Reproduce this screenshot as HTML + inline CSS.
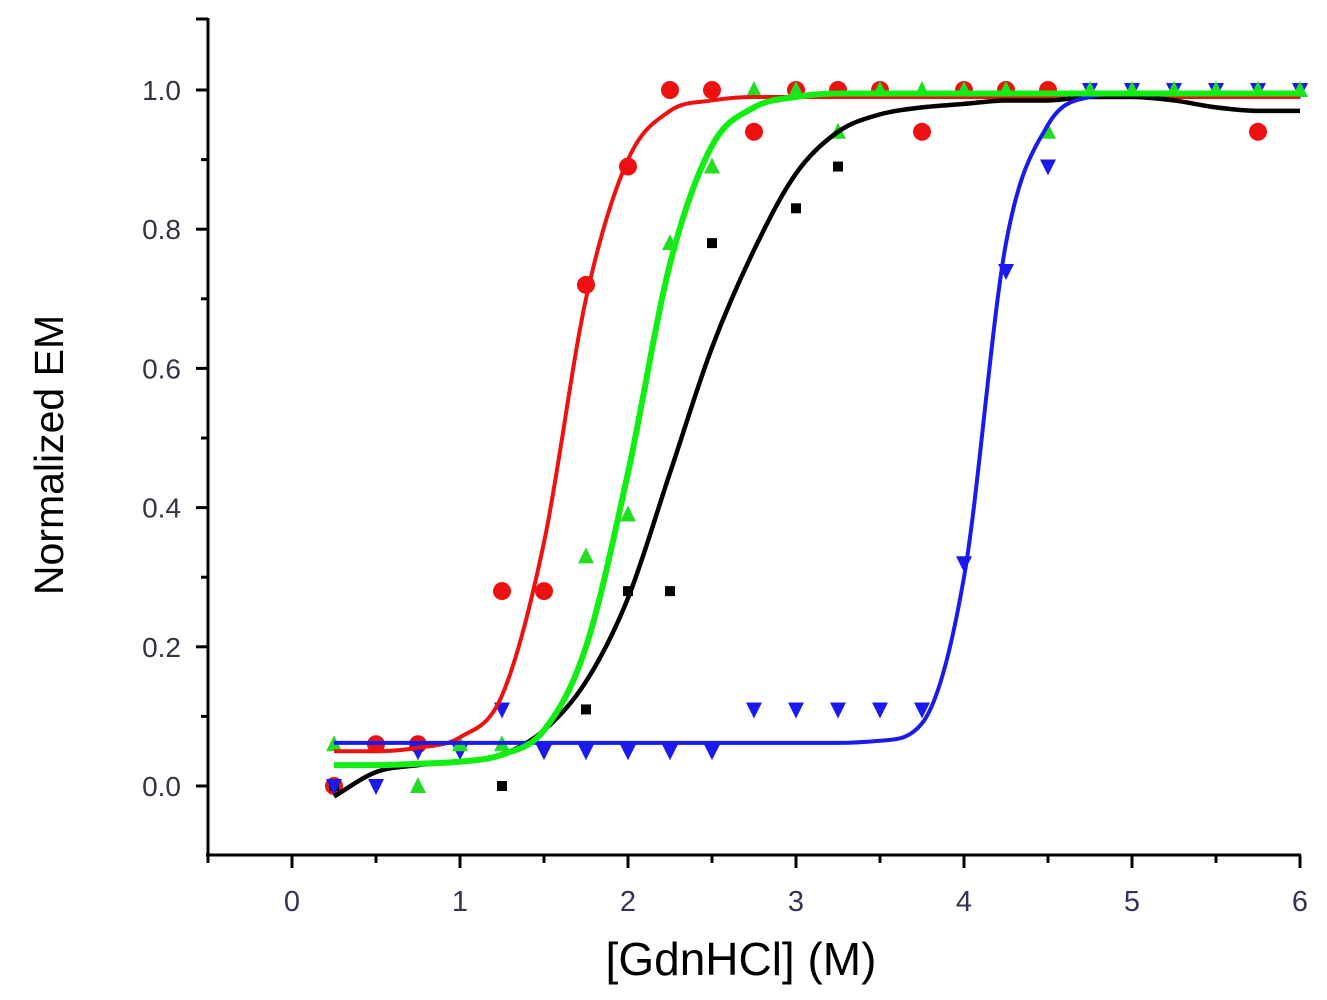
<!DOCTYPE html>
<html><head><meta charset="utf-8"><style>
html,body{margin:0;padding:0;background:#fff;}
svg{display:block;font-family:"Liberation Sans",Arial,sans-serif;}
</style></head><body>
<svg id="chart" width="1327" height="1000" viewBox="0 0 1327 1000"></svg>
<script>
const xTicks = [0,1,2,3,4,5,6];
const yTicks = [0.0,0.2,0.4,0.6,0.8,1.0];
const yTickLabels = ["0.0","0.2","0.4","0.6","0.8","1.0"];

const redX = [0.25,0.5,0.75,1.25,1.5,1.75,2.0,2.25,2.5,2.75,3.0,3.25,3.5,3.75,4.0,4.25,4.5,5.75];
const redY = [0.0,0.06,0.06,0.28,0.28,0.72,0.89,1.0,1.0,0.94,1.0,1.0,1.0,0.94,1.0,1.0,1.0,0.94];
const greenX = [0.25,0.75,1.0,1.25,1.75,2.0,2.25,2.5,2.75,3.0,3.25,3.5,3.75,4.0,4.25,4.5,4.75,5.0,5.25,5.5,5.75,6.0];
const greenY = [0.06,0.0,0.06,0.06,0.33,0.39,0.78,0.89,1.0,1.0,0.94,1.0,1.0,1.0,1.0,0.94,1.0,1.0,1.0,1.0,1.0,1.0];
const blackX = [0.25,1.25,1.75,2.0,2.25,2.5,3.0,3.25];
const blackY = [0.0,0.0,0.11,0.28,0.28,0.78,0.83,0.89];
const blueX = [0.25,0.5,0.75,1.0,1.25,1.5,1.75,2.0,2.25,2.5,2.75,3.0,3.25,3.5,3.75,4.0,4.25,4.5,4.75,5.0,5.25,5.5,5.75,6.0];
const blueY = [0.0,0.0,0.05,0.05,0.11,0.05,0.05,0.05,0.05,0.05,0.11,0.11,0.11,0.11,0.11,0.32,0.74,0.89,1.0,1.0,1.0,1.0,1.0,1.0];

const fitX = [0.25,0.5,0.75,1.0,1.25,1.5,1.75,2.0,2.25,2.5,2.75,3.0,3.25,3.5,3.75,4.0,4.25,4.5,4.75,5.0,5.25,5.5,5.75,6.0];
const redFit   = [0.05,0.05,0.055,0.07,0.13,0.35,0.70,0.90,0.97,0.985,0.99,0.99,0.99,0.99,0.99,0.99,0.99,0.99,0.99,0.99,0.99,0.99,0.99,0.99];
const greenFit = [0.03,0.03,0.032,0.035,0.045,0.08,0.20,0.45,0.75,0.92,0.975,0.99,0.995,0.995,0.995,0.995,0.995,0.995,0.995,0.995,0.995,0.995,0.995,0.995];
const blackFit = [-0.015,0.02,0.03,0.035,0.045,0.08,0.15,0.27,0.45,0.63,0.77,0.88,0.94,0.965,0.975,0.98,0.985,0.985,0.99,0.99,0.985,0.975,0.97,0.97];
const blueFit  = [0.062,0.062,0.062,0.062,0.062,0.062,0.062,0.062,0.062,0.062,0.062,0.062,0.062,0.065,0.09,0.30,0.78,0.95,0.99,0.995,0.995,0.995,0.995,0.995];

const NS="http://www.w3.org/2000/svg";
const svg=document.getElementById('chart');
function X(v){return 292+168*v;}
function Y(v){return 786-696*v;}
function el(tag,attrs,parent){const e=document.createElementNS(NS,tag);for(const k in attrs)e.setAttribute(k,attrs[k]);(parent||svg).appendChild(e);return e;}

const axes=el('g',{});


const yAxis=el('line',{x1:208,y1:18,x2:208,y2:856,stroke:'#000','stroke-width':3},axes);


const xAxis=el('line',{x1:206,y1:855,x2:1301,y2:855,stroke:'#000','stroke-width':3},axes);


for(let i=0;i<=11;i++){
  const v=i/10; const major=(i%2===0)||i===11;
  const y=(i===11)?19:Y(v);
  const t=el('line',{x1:major?196:201,y1:y,x2:208,y2:y,stroke:'#000','stroke-width':3},axes);
  
  
}
yTicks.forEach((v,i)=>{
  const t=el('text',{x:181,y:Y(v)+10,'text-anchor':'end','font-size':28,fill:'#333344'},axes);
  t.textContent=yTickLabels[i];
  
  
});
for(let v=-0.5;v<=6.01;v+=0.5){
  const major=Math.abs(v-Math.round(v))<0.01;
  const t=el('line',{x1:X(v),y1:855,x2:X(v),y2:major?868:863,stroke:'#000','stroke-width':3},axes);
  
  
}
xTicks.forEach(v=>{
  const t=el('text',{x:X(v),y:911,'text-anchor':'middle','font-size':29,fill:'#333355'},axes);
  t.textContent=String(v);
  
  
});
const xt=el('text',{x:741,y:975,'text-anchor':'middle','font-size':46,fill:'#000'});
xt.textContent='[GdnHCl] (M)';


const yt=el('text',{x:0,y:0,'text-anchor':'middle','font-size':41,fill:'#000',transform:'translate(63,455) rotate(-90)'});
yt.textContent='Normalized EM';



function markers(xs,ys,color,shape,name){
  const g=el('g',{fill:color});
  
  
  xs.forEach((xv,i)=>{
    const cx=X(xv),cy=Y(ys[i]);let m;
    if(shape==='circle')m=el('circle',{cx:cx,cy:cy,r:9},g);
    else if(shape==='square')m=el('rect',{x:cx-5,y:cy-5,width:10,height:10},g);
    else if(shape==='up')m=el('polygon',{points:`${cx},${cy-9} ${cx-8},${cy+7} ${cx+8},${cy+7}`},g);
    else m=el('polygon',{points:`${cx-8},${cy-7} ${cx+8},${cy-7} ${cx},${cy+9}`},g);
    
    
  });
}
function curve(xs,ys,color,w,name){
  const px=xs.map(X), py=ys.map(Y), n=px.length;
  const d=[],m=new Array(n);
  for(let i=0;i<n-1;i++)d.push((py[i+1]-py[i])/(px[i+1]-px[i]));
  m[0]=d[0];m[n-1]=d[n-2];
  for(let i=1;i<n-1;i++){m[i]=(d[i-1]*d[i]<=0)?0:(d[i-1]+d[i])/2;}
  for(let i=0;i<n-1;i++){
    if(d[i]===0){m[i]=0;m[i+1]=0;continue;}
    const a=m[i]/d[i],b=m[i+1]/d[i],s=a*a+b*b;
    if(s>9){const t=3/Math.sqrt(s);m[i]=t*a*d[i];m[i+1]=t*b*d[i];}
  }
  let p=`M${px[0]},${py[0]}`;
  for(let i=0;i<n-1;i++){
    const h=(px[i+1]-px[i])/3;
    p+=` C${px[i]+h},${py[i]+m[i]*h} ${px[i+1]-h},${py[i+1]-m[i+1]*h} ${px[i+1]},${py[i+1]}`;
  }
  const path=el('path',{d:p,fill:'none',stroke:color,'stroke-width':w,'stroke-linejoin':'round'});
  
  
}
markers(redX,redY,'#ee1111','circle','red');
markers(blackX,blackY,'#000','square','black');
markers(blueX,blueY,'#1a1aee','down','blue');
markers(greenX,greenY,'#22dd22','up','green');
curve(fitX,redFit,'#ee1111',4,'red');
curve(fitX,blackFit,'#000',4.5,'black');
curve(fitX,blueFit,'#1a1aee',4,'blue');
curve(fitX,greenFit,'#11ee11',6,'green');
</script>
</body></html>
